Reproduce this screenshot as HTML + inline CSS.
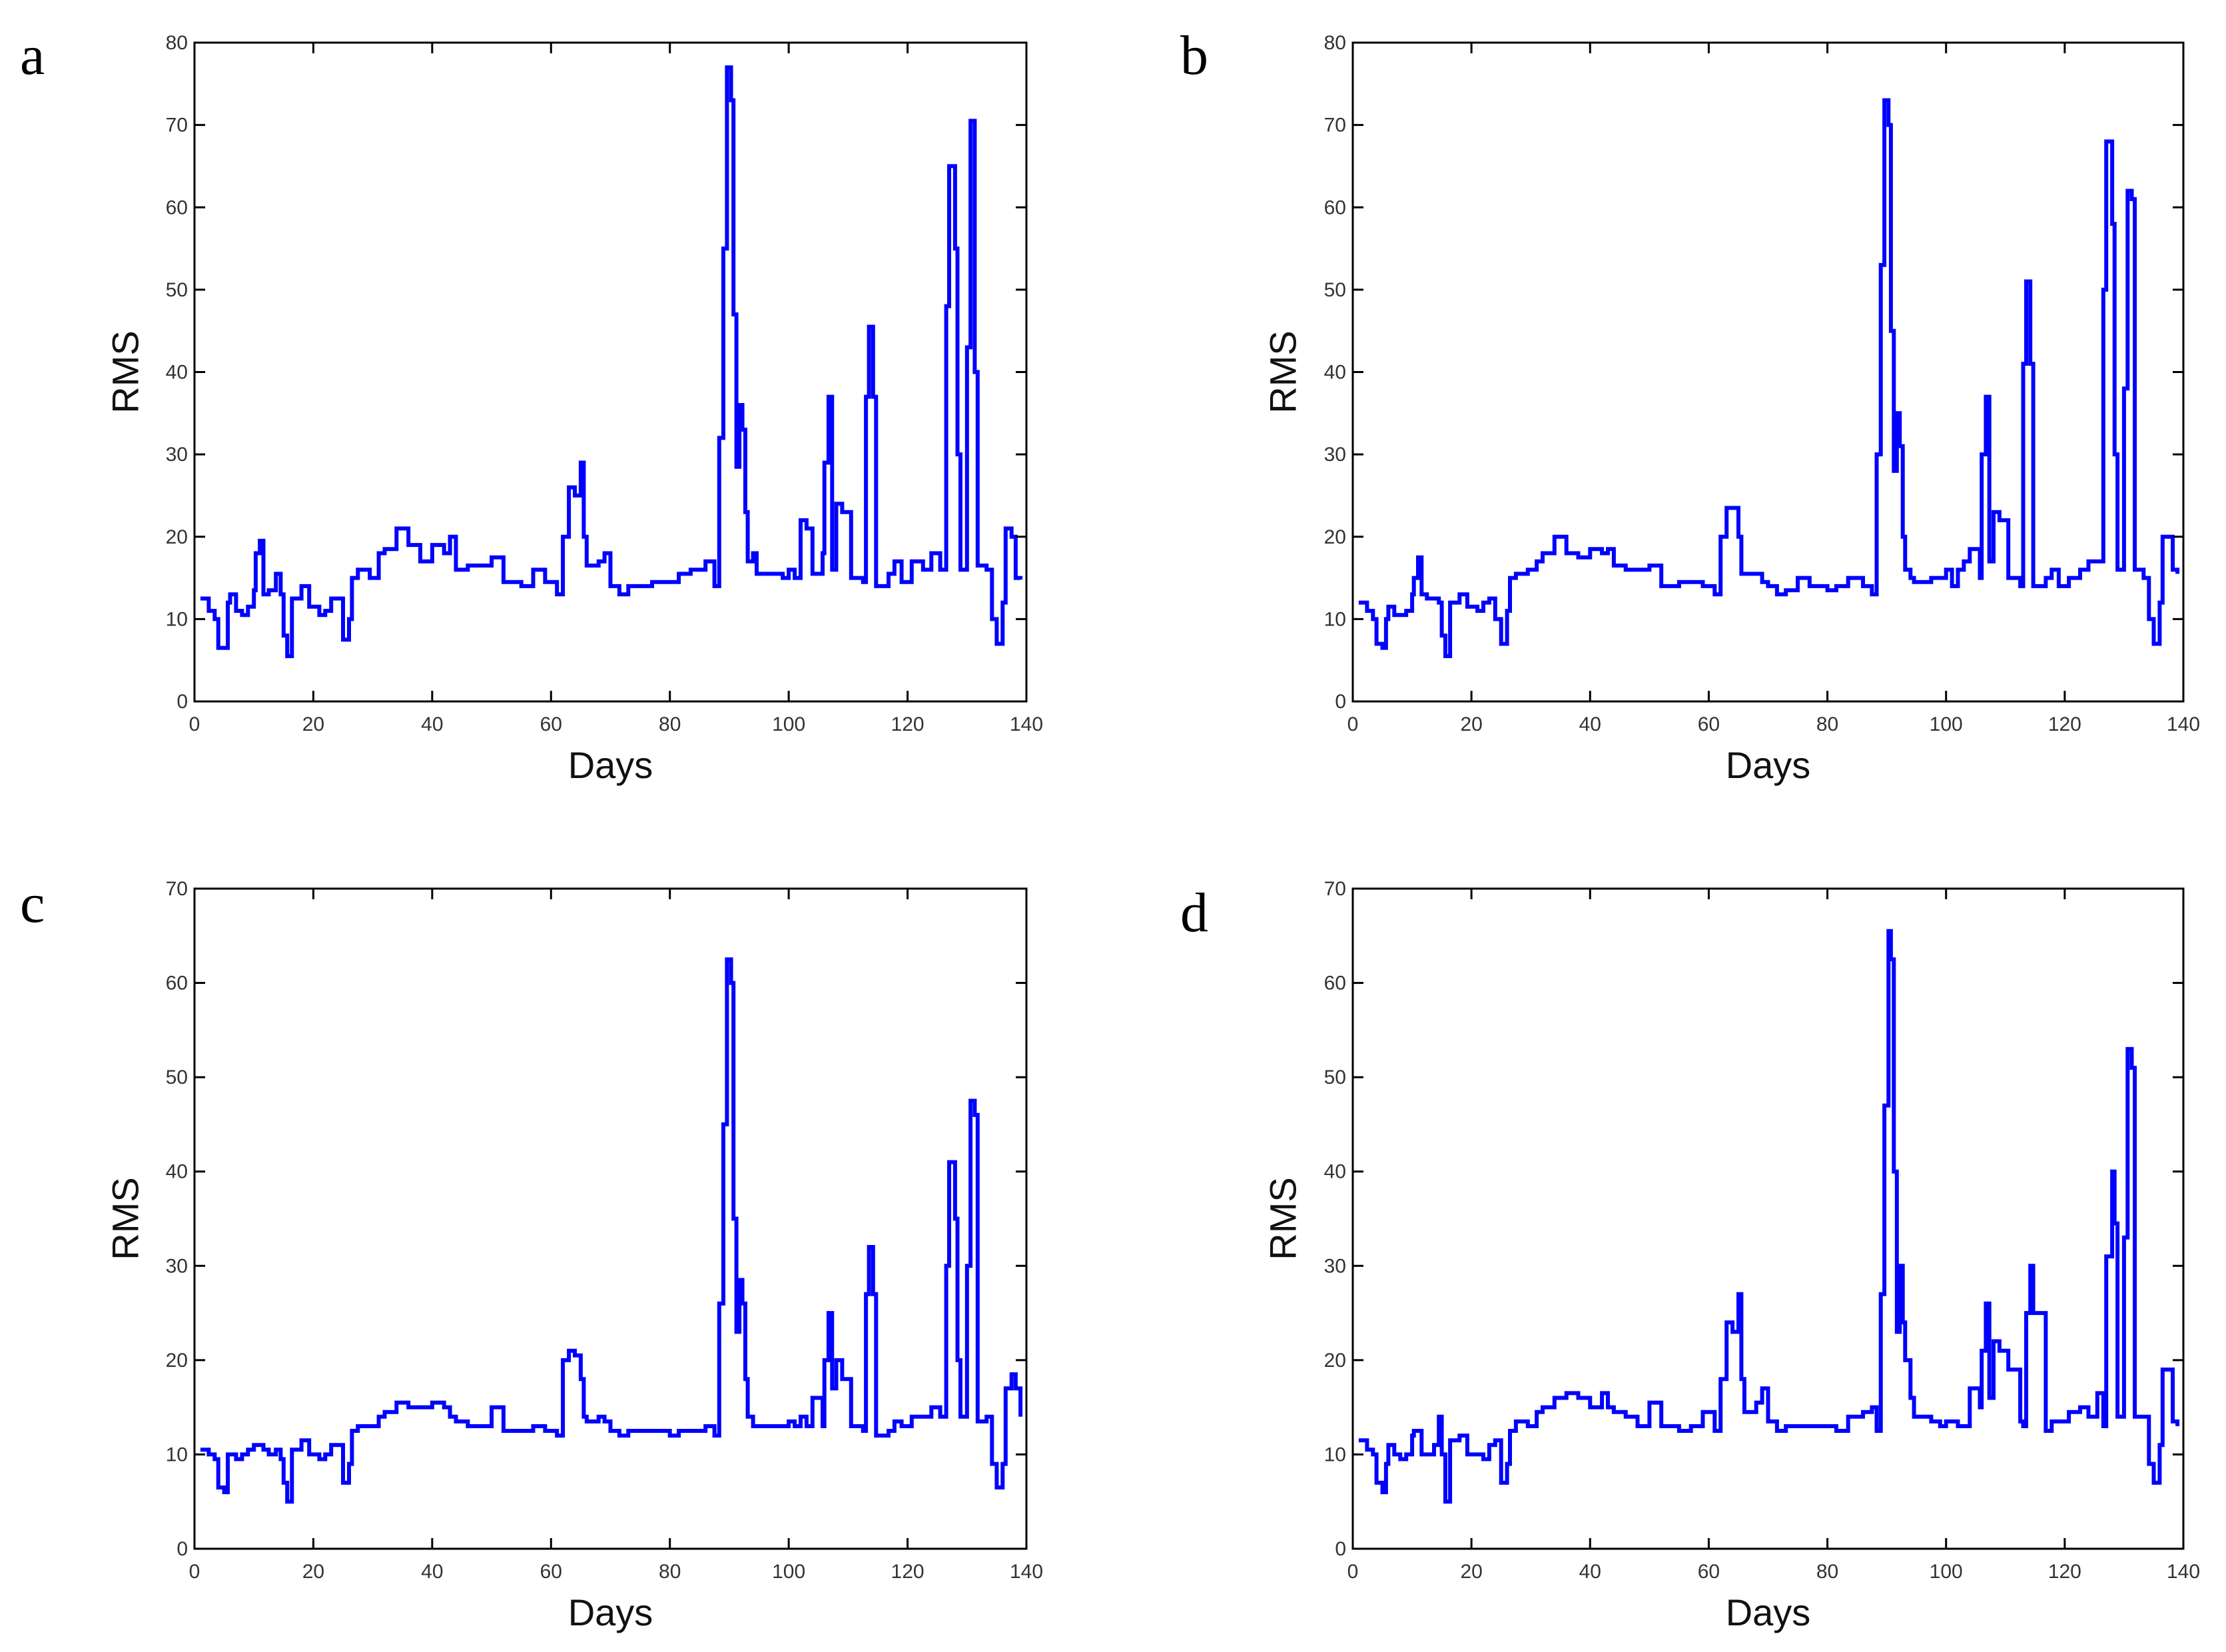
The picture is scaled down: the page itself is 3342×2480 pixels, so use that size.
<!DOCTYPE html>
<html><head><meta charset="utf-8"><style>
html,body{margin:0;padding:0;background:#fff;}
svg{display:block;}
text{font-family:"Liberation Sans",sans-serif;}
</style></head><body>
<svg id="chart" width="3342" height="2480" viewBox="0 0 3342 2480" xmlns="http://www.w3.org/2000/svg"></svg>
<script>
const days = [1,2.4,3.4,4,5,5.6,6,7,8,9,
10,10.3,11,11.6,12.5,13.7,14.5,15,15.6,16.4,
18,19.3,21,22,23,24,25,26,26.5,27.5,
29.5,31,32,34,36,38,40,42,43,44,
46,48,50,52,55,57,59,61,62,63,
64,65,65.5,66,68,69,70,71.5,73,75,
77,80,81.5,83.5,86,87.5,88.3,89,89.6,90.3,
90.7,91.2,91.7,92.2,92.7,93.1,94,94.6,97.5,99,
100,101,102,103,104,105.7,106,106.7,107.3,108,
109,110.5,112.5,113,113.5,114.2,114.7,116.8,117.8,119,
120.7,122.6,124,125.5,126.5,127,128,128.4,128.9,130,
130.6,131.3,131.8,133.3,134.2,135,136,136.5,137.5,138.2,
139];
const rmsA = [12.5,11,10,6.5,6.5,12,13,11,10.5,11.5,
13.5,18,19.5,13,13.5,15.5,13,8,5.5,12.5,
14,11.5,10.5,11,12.5,12.5,7.5,10,15,16,
15,18,18.5,21,19,17,19,18,20,16,
16.5,16.5,17.5,14.5,14,16,14.5,13,20,26,
25,29,20,16.5,17,18,14,13,14,14,
14.5,14.5,15.5,16,17,14,32,55,77,73,
47,28.5,36,33,23,17,18,15.5,15.5,15,
16,15,22,21,15.5,18,29,37,16,24,
23,15,14.5,37,45.5,37,14,15.5,17,14.5,
17,16,18,16,48,65,55,30,16,43,
70.5,40,16.5,16,10,7,12,21,20,15,
14.8];
const rmsB = [12,11,10,7,6.5,10,11.5,10.5,10.5,11,
13,15,17.5,13,12.5,12.5,12,8,5.5,12,
13,11.5,11,12,12.5,10,7,11,15,15.5,
16,17,18,20,18,17.5,18.5,18,18.5,16.5,
16,16,16.5,14,14.5,14.5,14,13,20,23.5,
23.5,20,15.5,15.5,15.5,14.5,14,13,13.5,15,
14,13.5,14,15,14,13,30,53,73,70,
45,28,35,31,20,16,15,14.5,15,15,
16,14,16,17,18.5,15,30,37,17,23,
22,15,14,41,51,41,14,15,16,14,
15,16,17,17,50,68,58,30,16,38,
62,61,16,15,10,7,12,20,20,16,
15.5];
const rmsC = [10.5,10,9.5,6.5,6,10,10,9.5,10,10.5,
11,11,11,10.5,10,10.5,9.5,7,5,10.5,
11.5,10,9.5,10,11,11,7,9,12.5,13,
13,14,14.5,15.5,15,15,15.5,15,14,13.5,
13,13,15,12.5,12.5,13,12.5,12,20,21,
20.5,18,14,13.5,14,13.5,12.5,12,12.5,12.5,
12.5,12,12.5,12.5,13,12,26,45,62.5,60,
35,23,28.5,26,18,14,13,13,13,13,
13.5,13,14,13,16,13,20,25,17,20,
18,13,12.5,27,32,27,12,12.5,13.5,13,
14,14,15,14,30,41,35,20,14,30,
47.5,46,13.5,14,9,6.5,9,17,18.5,17,
14];
const rmsD = [11.5,10.5,10,7,6,9,11,10,9.5,10,
12,12.5,12.5,10,10,11,14,10,5,11.5,
12,10,10,9.5,11,11.5,7,9,12.5,13.5,
13,14.5,15,16,16.5,16,15,16.5,15,14.5,
14,13,15.5,13,12.5,13,14.5,12.5,18,24,
23,27,18,14.5,15.5,17,13.5,12.5,13,13,
13,13,12.5,14,14.5,15,12.5,27,47,65.5,
62.5,40,23,30,24,20,16,14,13.5,13,
13.5,13.5,13,13,17,15,21,26,16,22,
21,19,13.5,13,25,30,25,12.5,13.5,13.5,
14.5,15,14,16.5,13,31,40,34.5,14,33,
53,51,14,14,9,7,11,19,19,13.5,
13];
const xTicks = [0,20,40,60,80,100,120,140];
const yTicksAB = [0,10,20,30,40,50,60,70,80];
const yTicksCD = [0,10,20,30,40,50,60,70];

const NS = "http://www.w3.org/2000/svg";
const svg = document.getElementById('chart');
function mk(tag, attrs, parent){
  const e = document.createElementNS(NS, tag);
  for (const k in attrs) e.setAttribute(k, attrs[k]);
  (parent||svg).appendChild(e);
  return e;
}
const panels = [
  {id:'a', L:292, R:1541, T:64, B:1053, ymax:80, yt:yTicksAB, vals:rmsA, lx:30, ly:111, rx:188},
  {id:'b', L:2031, R:3278, T:64, B:1053, ymax:80, yt:yTicksAB, vals:rmsB, lx:1772, ly:111, rx:1926},
  {id:'c', L:292, R:1541, T:1334, B:2325, ymax:70, yt:yTicksCD, vals:rmsC, lx:30, ly:1384, rx:188},
  {id:'d', L:2031, R:3278, T:1334, B:2325, ymax:70, yt:yTicksCD, vals:rmsD, lx:1772, ly:1398, rx:1926}
];
panels.forEach(p=>{
  const g = mk('g', {});
  
  
  const xs = d => p.L + (d/140)*(p.R-p.L);
  const ys = v => p.B - (v/p.ymax)*(p.B-p.T);
  const lt = mk('text', {x:p.lx, y:p.ly, 'font-size':84, style:'font-family:"Liberation Serif",serif', fill:'#000'}, g);
  lt.textContent = p.id;
  
  
  let d = '';
  const n = Math.min(days.length, p.vals.length);
  for (let i=0;i<n;i++){
    const x = xs(days[i]).toFixed(1), y = ys(p.vals[i]).toFixed(1);
    if (i===0) d += 'M'+x+','+y; else d += 'H'+x+'V'+y;
  }
  const line = mk('path', {d:d, fill:'none', stroke:'#0000ff', 'stroke-width':6, 'stroke-linejoin':'miter'}, g);
  
  
  const box = mk('rect', {x:p.L, y:p.T, width:p.R-p.L, height:p.B-p.T, fill:'none', stroke:'#000', 'stroke-width':3}, g);
  
  
  xTicks.forEach(t=>{
    const x = xs(t);
    mk('line', {x1:x, x2:x, y1:p.B, y2:p.B-16, stroke:'#000', 'stroke-width':3}, g);
    mk('line', {x1:x, x2:x, y1:p.T, y2:p.T+16, stroke:'#000', 'stroke-width':3}, g);
    const tx = mk('text', {x:x, y:p.B+44, 'font-size':30, 'text-anchor':'middle', fill:'#333'}, g);
    tx.textContent = t;
    
    
  });
  p.yt.forEach(t=>{
    const y = ys(t);
    mk('line', {x1:p.L, x2:p.L+16, y1:y, y2:y, stroke:'#000', 'stroke-width':3}, g);
    mk('line', {x1:p.R, x2:p.R-16, y1:y, y2:y, stroke:'#000', 'stroke-width':3}, g);
    const ty = mk('text', {x:p.L-10, y:y+10, 'font-size':30, 'text-anchor':'end', fill:'#333'}, g);
    ty.textContent = t;
    
    
  });
  const xt = mk('text', {x:(p.L+p.R)/2, y:p.B+115, 'font-size':56, 'text-anchor':'middle', fill:'#111'}, g);
  xt.textContent = 'Days';
  
  
  const cy = (p.T+p.B)/2;
  const yt = mk('text', {x:p.rx, y:cy, 'font-size':56, 'text-anchor':'middle', fill:'#111', transform:'rotate(-90 '+p.rx+' '+cy+')', dy:'0.35em'}, g);
  yt.textContent = 'RMS';
  
  
});
</script>
</body></html>
